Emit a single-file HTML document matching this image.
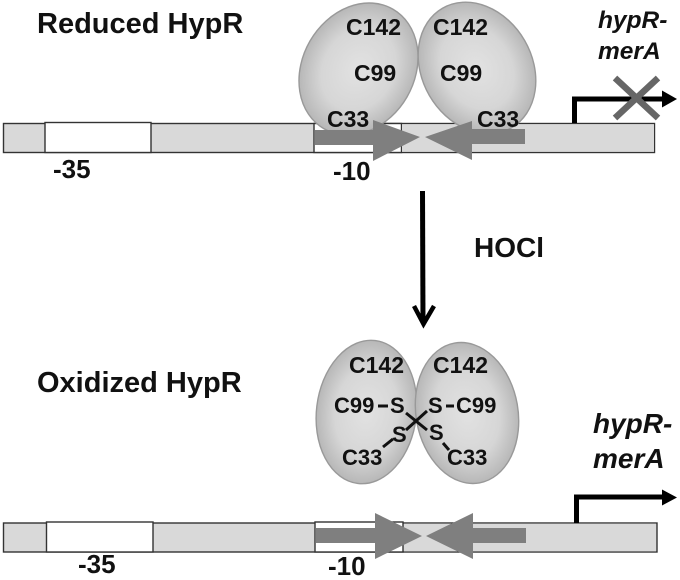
<!DOCTYPE html>
<html>
<head>
<meta charset="utf-8">
<style>
html,body{margin:0;padding:0;background:#fff;}
svg{display:block;filter:blur(0.35px);}
text{font-family:"Liberation Sans",sans-serif;font-weight:bold;fill:#111;}
</style>
</head>
<body>
<svg width="680" height="580" viewBox="0 0 680 580" xmlns="http://www.w3.org/2000/svg">
<defs>
<radialGradient id="g" cx="50%" cy="50%" r="52%">
<stop offset="0" stop-color="#e2e2e2"/>
<stop offset="0.6" stop-color="#d6d6d6"/>
<stop offset="1" stop-color="#b4b4b4"/>
</radialGradient>
</defs>
<!-- top bar -->
<rect x="3.5" y="123.5" width="651" height="29" fill="#d9d9d9" stroke="#333" stroke-width="1.4"/>
<rect x="45" y="122.5" width="106" height="30" fill="#fff" stroke="#333" stroke-width="1.4"/>
<rect x="314" y="123.5" width="87.5" height="29" fill="#fff" stroke="#333" stroke-width="1.4"/>
<rect x="402" y="124.2" width="252" height="27.6" fill="#d9d9d9"/>
<!-- top ellipses -->
<ellipse cx="358.5" cy="69" rx="56" ry="69" transform="rotate(30 358.5 69)" fill="url(#g)" stroke="#999" stroke-width="1.4"/>
<ellipse cx="477" cy="68" rx="55" ry="69" transform="rotate(-30 477 68)" fill="url(#g)" stroke="#999" stroke-width="1.4"/>
<!-- top arrows -->
<polygon points="315,130 373,130 373,120 420,137 373,161 373,145 315,145" fill="#7f7f7f"/>
<polygon points="525,129 472,129 472,121 425,137 472,160 472,144 525,144" fill="#7f7f7f"/>
<text x="346" y="35" font-size="23">C142</text>
<text x="433" y="35" font-size="23">C142</text>
<text x="354" y="81" font-size="23">C99</text>
<text x="440" y="81" font-size="23">C99</text>
<text x="327" y="127" font-size="23">C33</text>
<text x="477" y="127" font-size="23">C33</text>
<text x="37" y="33" font-size="29">Reduced HypR</text>
<text x="53" y="178" font-size="26">-35</text>
<text x="333" y="180" font-size="26">-10</text>
<text x="598" y="28" font-size="24.5" font-style="italic">hypR-</text>
<text x="598" y="59" font-size="24.5" font-style="italic">merA</text>
<!-- top promoter -->
<path d="M574.5 123 V99 H664" fill="none" stroke="#000" stroke-width="5"/>
<polygon points="662,90.5 677,99 662,107.5" fill="#000"/>
<path d="M615 78 L658 118 M658 78 L615 118" stroke="#666" stroke-width="6.5" fill="none"/>
<!-- center arrow -->
<path d="M422.5 191 L423 323" stroke="#000" stroke-width="5" fill="none"/>
<path d="M414 306 L423.5 324 L434 306" stroke="#000" stroke-width="4.5" fill="none"/>
<text x="474" y="257" font-size="28">HOCl</text>
<text x="37" y="392" font-size="29">Oxidized HypR</text>
<!-- bottom ellipses -->
<ellipse cx="366.5" cy="412" rx="50" ry="72" transform="rotate(7 366.5 412)" fill="url(#g)" stroke="#999" stroke-width="1.4"/>
<ellipse cx="467" cy="413" rx="51" ry="71" transform="rotate(-10 467 413)" fill="url(#g)" stroke="#999" stroke-width="1.4"/>
<text x="349" y="373" font-size="23">C142</text>
<text x="433" y="373" font-size="23">C142</text>
<text x="334" y="413" font-size="22">C99</text>
<text x="390" y="413" font-size="22">S</text>
<text x="428" y="413" font-size="22">S</text>
<text x="456" y="413" font-size="22">C99</text>
<text x="392" y="442" font-size="22">S</text>
<text x="429" y="440" font-size="22">S</text>
<text x="342" y="465" font-size="22">C33</text>
<text x="447" y="465" font-size="22">C33</text>
<path d="M378 406 H388 M446 406 H454 M406 413 L427 430 M427 411 L406 430 M383 447 L393 439 M443 443 L449 450" stroke="#111" stroke-width="3" fill="none"/>
<text x="593" y="433" font-size="28" font-style="italic">hypR-</text>
<text x="593" y="468" font-size="28" font-style="italic">merA</text>
<!-- bottom bar -->
<rect x="3.5" y="523" width="653.5" height="29" fill="#d9d9d9" stroke="#333" stroke-width="1.4"/>
<rect x="46.5" y="522" width="106.5" height="30" fill="#fff" stroke="#333" stroke-width="1.4"/>
<rect x="315" y="522" width="88" height="30" fill="#fff" stroke="#333" stroke-width="1.4"/>
<rect x="404" y="523.7" width="252" height="27.6" fill="#d9d9d9"/>
<polygon points="316,528 375,528 375,513 422,536 375,559 375,543 316,543" fill="#7f7f7f"/>
<polygon points="526,528 473,528 473,513 426,536 473,559 473,543 526,543" fill="#7f7f7f"/>
<path d="M576.5 523 V497 H664" fill="none" stroke="#000" stroke-width="5"/>
<polygon points="662,489.5 677,497.5 662,505.5" fill="#000"/>
<text x="78" y="573" font-size="26">-35</text>
<text x="328" y="575" font-size="26">-10</text>
</svg>
</body>
</html>
